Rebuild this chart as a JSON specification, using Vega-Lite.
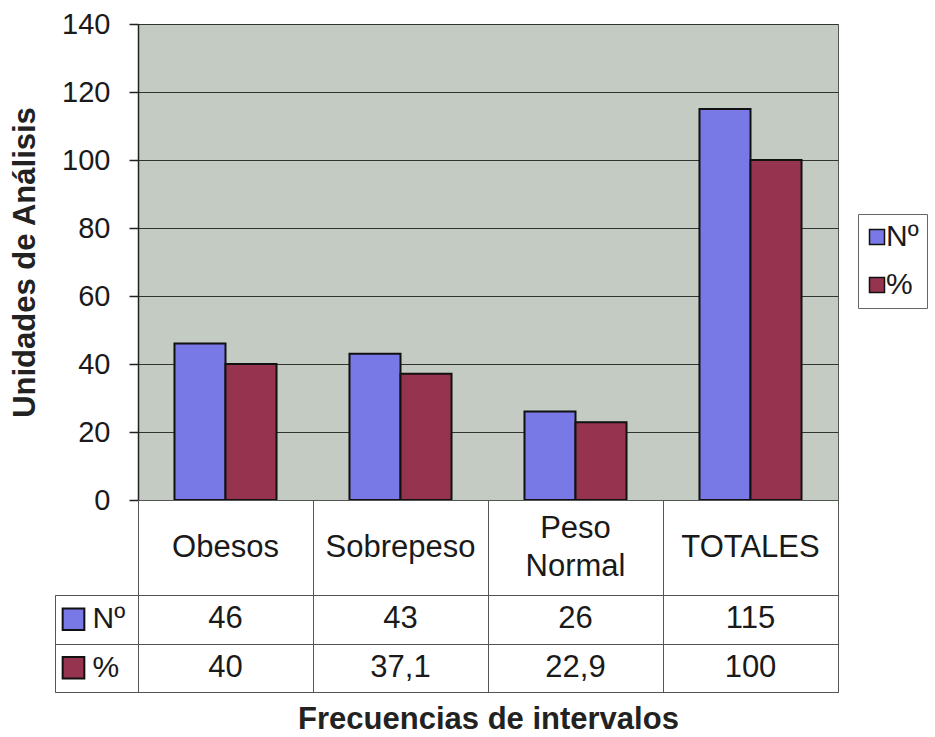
{
  "$schema": "https://vega.github.io/schema/vega-lite/v6.json",
  "padding": {"left": 9, "top": 9, "right": 0, "bottom": 0},
  "autosize": {"type": "pad"},
  "datasets": {
    "rows": [
      {"cat": "Obesos", "serie": "Nº", "valor": 46},
      {"cat": "Sobrepeso", "serie": "Nº", "valor": 43},
      {"cat": "Peso Normal", "serie": "Nº", "valor": 26},
      {"cat": "TOTALES", "serie": "Nº", "valor": 115},
      {"cat": "Obesos", "serie": "%", "valor": 40},
      {"cat": "Sobrepeso", "serie": "%", "valor": 37.1},
      {"cat": "Peso Normal", "serie": "%", "valor": 22.9},
      {"cat": "TOTALES", "serie": "%", "valor": 100}
    ]
  },
  "columns": 2,
  "spacing": 0,
  "bounds": "flush",
  "align": "each",
  "concat": [
    {
      "width": 83,
      "height": 476,
      "data": {"values": []},
      "mark": "text"
    },
    {
      "width": 700,
      "height": 476,
      "data": {"name": "rows"},
      "view": {"fill": "#C3CBC3", "stroke": "#555555", "strokeWidth": 1},
      "mark": {"type": "bar", "stroke": "#111111", "strokeWidth": 2},
      "encoding": {
        "x": {
          "field": "cat",
          "type": "nominal",
          "sort": ["Obesos", "Sobrepeso", "Peso Normal", "TOTALES"],
          "scale": {"paddingInner": 0.417, "paddingOuter": 0.2085},
          "axis": null
        },
        "xOffset": {
          "field": "serie",
          "type": "nominal",
          "sort": ["Nº", "%"],
          "scale": {"paddingInner": 0, "paddingOuter": 0}
        },
        "y": {
          "field": "valor",
          "type": "quantitative",
          "scale": {"domain": [0, 140], "nice": false},
          "axis": {
            "values": [0, 20, 40, 60, 80, 100, 120, 140],
            "title": "Unidades de Análisis",
            "grid": true,
            "gridColor": "#333333",
            "gridWidth": 1.2,
            "domainColor": "#222222",
            "domainWidth": 1.5,
            "tickColor": "#222222",
            "tickWidth": 1.5,
            "tickSize": 9,
            "labelFontSize": 29,
            "labelColor": "#1a1a1a",
            "labelPadding": 19,
            "titleFontSize": 31,
            "titleFontWeight": "bold",
            "titleColor": "#222222",
            "titlePadding": 20
          }
        },
        "color": {
          "field": "serie",
          "type": "nominal",
          "scale": {"domain": ["Nº", "%"], "range": ["#7878E6", "#96344F"]},
          "legend": {
            "title": null,
            "orient": "none",
            "legendX": 803,
            "legendY": 190,
            "symbolType": "square",
            "symbolSize": 225,
            "symbolStrokeColor": "#111111",
            "symbolStrokeWidth": 1.5,
            "symbolOpacity": 1,
            "symbolOffset": -4,
            "labelFontSize": 30,
            "labelColor": "#1a1a1a",
            "labelOffset": -6,
            "rowPadding": 18,
            "padding": 8,
            "strokeColor": "#666666"
          }
        }
      }
    },
    {
      "width": 83,
      "height": 95,
      "data": {"values": []},
      "mark": "text"
    },
    {
      "width": 700,
      "height": 95,
      "data": {"name": "rows"},
      "transform": [{"filter": "datum.serie === 'Nº'"}],
      "view": {"stroke": "#555555", "strokeWidth": 1},
      "encoding": {
        "x": {
          "field": "cat",
          "type": "nominal",
          "sort": ["Obesos", "Sobrepeso", "Peso Normal", "TOTALES"],
          "scale": {"paddingInner": 0, "paddingOuter": 0},
          "axis": {"orient": "top", "labels": false, "ticks": false, "domain": false, "grid": true, "tickBand": "extent", "gridColor": "#555555", "gridWidth": 1, "title": null}
        },
        "text": {"field": "cat"}
      },
      "layer": [
        {
          "transform": [{"filter": "datum.cat !== 'Peso Normal'"}],
          "mark": {"type": "text", "fontSize": 31, "color": "#1a1a1a"}
        },
        {
          "transform": [{"filter": "datum.cat === 'Peso Normal'"}],
          "mark": {"type": "text", "fontSize": 31, "lineBreak": " ", "lineHeight": 38, "dy": -19, "color": "#1a1a1a"}
        }
      ]
    },
    {
      "width": 83,
      "height": 97,
      "data": {"name": "rows"},
      "transform": [{"filter": "datum.cat === 'Obesos'"}],
      "view": {"stroke": "#555555", "strokeWidth": 1},
      "encoding": {
        "y": {
          "field": "serie",
          "type": "nominal",
          "sort": ["Nº", "%"],
          "scale": {"paddingInner": 0, "paddingOuter": 0},
          "axis": {"labels": false, "ticks": false, "domain": false, "grid": true, "tickBand": "extent", "gridColor": "#555555", "gridWidth": 1, "title": null}
        }
      },
      "layer": [
        {
          "mark": {"type": "point", "shape": "square", "filled": true, "size": 470, "stroke": "#111111", "strokeWidth": 2, "opacity": 1, "xOffset": -23},
          "encoding": {"color": {"field": "serie", "type": "nominal"}}
        },
        {
          "mark": {"type": "text", "align": "left", "fontSize": 30, "xOffset": -4, "color": "#1a1a1a"},
          "encoding": {"text": {"field": "serie"}}
        }
      ]
    },
    {
      "width": 700,
      "height": 97,
      "data": {"name": "rows"},
      "view": {"stroke": "#555555", "strokeWidth": 1},
      "mark": {"type": "text", "fontSize": 31, "color": "#1a1a1a"},
      "encoding": {
        "x": {
          "field": "cat",
          "type": "nominal",
          "sort": ["Obesos", "Sobrepeso", "Peso Normal", "TOTALES"],
          "scale": {"paddingInner": 0, "paddingOuter": 0},
          "axis": {"orient": "bottom", "labels": false, "ticks": false, "domain": false, "grid": true, "tickBand": "extent", "gridColor": "#555555", "gridWidth": 1, "title": "Frecuencias de intervalos", "titleFontSize": 31, "titleFontWeight": "bold", "titleColor": "#222222", "titlePadding": 12}
        },
        "y": {
          "field": "serie",
          "type": "nominal",
          "sort": ["Nº", "%"],
          "scale": {"paddingInner": 0, "paddingOuter": 0},
          "axis": {"labels": false, "ticks": false, "domain": false, "grid": true, "tickBand": "extent", "gridColor": "#555555", "gridWidth": 1, "title": null}
        },
        "text": {"field": "valor", "type": "quantitative", "format": ".1~f"}
      }
    }
  ],
  "config": {
    "font": "Liberation Sans",
    "view": {"stroke": null},
    "locale": {"number": {"decimal": ",", "thousands": ".", "grouping": [3], "currency": ["", ""]}}
  }
}
